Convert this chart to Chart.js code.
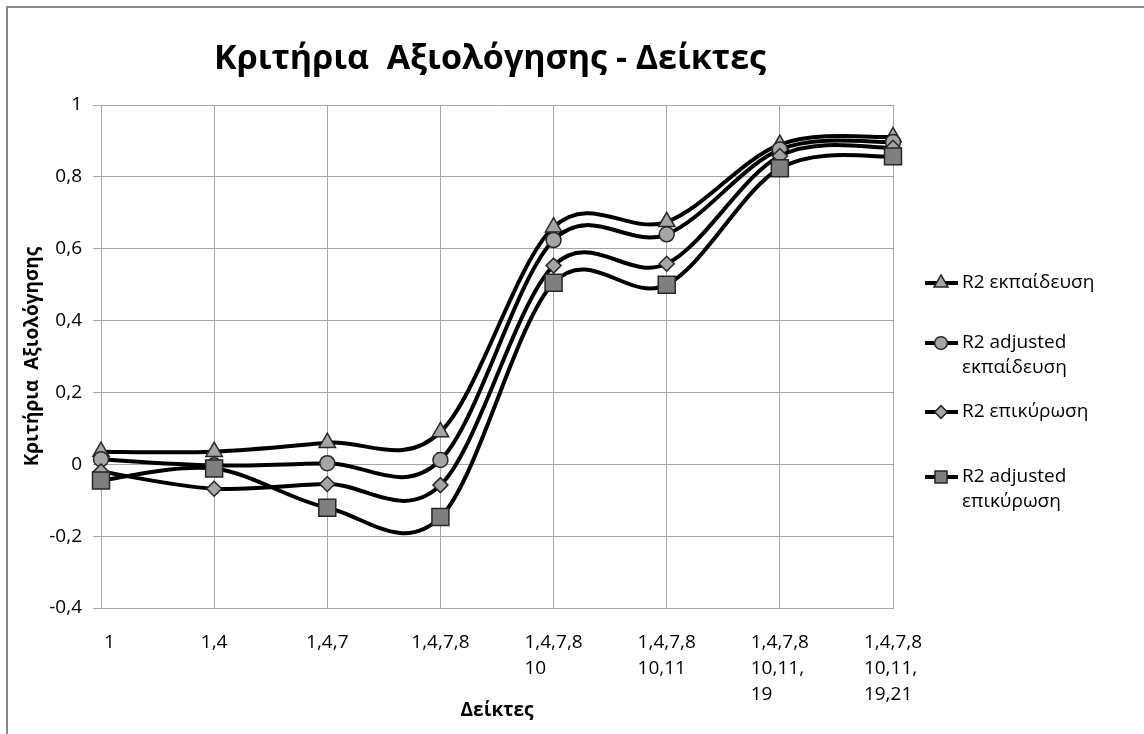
<!DOCTYPE html>
<html>
<head>
<meta charset="utf-8">
<script src="https://cdn.jsdelivr.net/npm/chart.js@4/dist/chart.umd.min.js"></script>
<style>
  html, body { margin: 0; padding: 0; background: #fff; }
  #wrap { width: 1144px; height: 734px; position: relative; }
</style>
</head>
<body>
<div id="wrap"><canvas id="chart" width="1144" height="734"></canvas></div>
<script>
// Index sets on the category axis (each entry is one wrapped label)
const categories = [
  ["1"],
  ["1,4"],
  ["1,4,7"],
  ["1,4,7,8"],
  ["1,4,7,8", "10"],
  ["1,4,7,8", "10,11"],
  ["1,4,7,8", "10,11,", "19"],
  ["1,4,7,8", "10,11,", "19,21"]
];

// Evaluation criteria per index set
const r2Train       = [0.035, 0.035, 0.060, 0.090, 0.660, 0.675, 0.890, 0.911];
const r2AdjTrain    = [0.014, -0.003, 0.003, 0.012, 0.624, 0.640, 0.876, 0.897];
const r2Valid       = [-0.020, -0.068, -0.055, -0.058, 0.553, 0.558, 0.858, 0.881];
const r2AdjValid    = [-0.045, -0.012, -0.121, -0.147, 0.505, 0.500, 0.824, 0.857];

const seriesNames = ["R2 εκπαίδευση", "R2 adjusted εκπαίδευση", "R2 επικύρωση", "R2 adjusted επικύρωση"];
const legendLines = [["R2 εκπαίδευση"], ["R2 adjusted", "εκπαίδευση"], ["R2 επικύρωση"], ["R2 adjusted", "επικύρωση"]];

const yMin = -0.4, yMax = 1, yStep = 0.2;

const chartTitle = "Κριτήρια  Αξιολόγησης - Δείκτες";
const yTitle = "Κριτήρια  Αξιολόγησης";
const xTitle = "Δείκτες";

const FONT = "'Open Sans', 'Noto Sans', sans-serif";
const TICK_SIZE = 19;

const markers = [
  { pointStyle: "triangle", radius: 9.5, fill: "#a5a5a5" },
  { pointStyle: "circle",   radius: 7.5, fill: "#a5a5a5" },
  { pointStyle: "rectRot",  radius: 7.5, fill: "#a5a5a5" },
  { pointStyle: "rect",     radius: 12, fill: "#7f7f7f" }
];
const seriesValues = [r2Train, r2AdjTrain, r2Valid, r2AdjValid];

const datasets = seriesValues.map((vals, i) => ({
  label: seriesNames[i],
  data: vals,
  borderColor: "#000",
  borderWidth: 4,
  tension: 0.5,
  fill: false,
  pointStyle: markers[i].pointStyle,
  pointRadius: markers[i].radius,
  pointBackgroundColor: markers[i].fill,
  pointBorderColor: "#262626",
  pointBorderWidth: 1.5,
  order: seriesValues.length - 1 - i
}));

// Smoothed lines: uniform Catmull-Rom handles (1/6 of the neighbour span)
const smoothCurves = {
  id: "smoothCurves",
  beforeDatasetDraw(chart, args) {
    const meta = args.meta;
    meta.dataset.updateControlPoints(chart.chartArea, meta.iScale.axis);
    const pts = meta.data;
    const n = pts.length;
    for (let i = 0; i < n; i++) {
      const p = pts[i];
      const prev = pts[Math.max(i - 1, 0)];
      const next = pts[Math.min(i + 1, n - 1)];
      const dx = (next.x - prev.x) / 6;
      const dy = (next.y - prev.y) / 6;
      p.cp1x = p.x - dx; p.cp1y = p.y - dy;
      p.cp2x = p.x + dx; p.cp2y = p.y + dy;
    }
  }
};

const frame = {
  id: "frame",
  beforeDraw(chart) {
    const ctx = chart.ctx;
    ctx.save();
    ctx.fillStyle = "#fff";
    ctx.fillRect(0, 0, chart.width, chart.height);
    ctx.strokeStyle = "#868686";
    ctx.lineWidth = 2;
    ctx.strokeRect(7, 7, chart.width + 20, chart.height + 20);
    ctx.restore();
  }
};

const heading = {
  id: "heading",
  afterDraw(chart) {
    const ctx = chart.ctx;
    ctx.save();
    ctx.font = "bold 34px " + FONT;
    ctx.fillStyle = "#000";
    ctx.textAlign = "center";
    ctx.textBaseline = "middle";
    const a = chart.chartArea;
    ctx.fillText(chartTitle, (a.left + a.right) / 2 - 7, 59);
    ctx.restore();
  }
};

const categoryLabels = {
  id: "categoryLabels",
  afterDraw(chart) {
    const ctx = chart.ctx;
    const xs = chart.scales.x;
    const a = chart.chartArea;
    ctx.save();
    ctx.font = TICK_SIZE + "px " + FONT;
    ctx.fillStyle = "#000";
    ctx.textAlign = "left";
    ctx.textBaseline = "middle";
    chart.data.labels.forEach((lines, i) => {
      const x = xs.getPixelForTick(i);
      const w = Math.max(...lines.map(l => ctx.measureText(l).width));
      let left = x - w / 2;
      if (left < a.left + 3) left = a.left + 3;
      lines.forEach((l, j) => ctx.fillText(l, left, a.bottom + 35 + j * 26));
    });
    ctx.restore();
  }
};

const sideLegend = {
  id: "sideLegend",
  afterDraw(chart) {
    const ctx = chart.ctx;
    const rows = [283, 343, 412, 477];
    ctx.save();
    ctx.font = TICK_SIZE + "px " + FONT;
    ctx.textBaseline = "middle";
    ctx.textAlign = "left";
    chart.data.datasets.forEach((ds, i) => {
      const y = rows[i];
      ctx.strokeStyle = "#000";
      ctx.lineWidth = 4;
      ctx.beginPath();
      ctx.moveTo(925, y);
      ctx.lineTo(958, y);
      ctx.stroke();
      ctx.fillStyle = ds.pointBackgroundColor;
      ctx.strokeStyle = ds.pointBorderColor;
      ctx.lineWidth = 1.5;
      Chart.helpers.drawPoint(ctx, {
        pointStyle: ds.pointStyle,
        radius: Math.min(ds.pointRadius, 10) * 0.85,
        rotation: 0,
        borderWidth: 1.5
      }, 941, y);
      ctx.fillStyle = "#000";
      legendLines[i].forEach((t, j) => ctx.fillText(t, 962, y + j * 25));
    });
    ctx.restore();
  }
};

const PAD_LEFT = 10;
const PLOT_LEFT = 101, PLOT_RIGHT = 893, PLOT_TOP = 105, PLOT_BOTTOM = 608;

new Chart(document.getElementById("chart"), {
  type: "line",
  data: { labels: categories, datasets },
  options: {
    responsive: false,
    animation: false,
    events: [],
    layout: {
      padding: { left: PAD_LEFT, right: 1144 - PLOT_RIGHT, top: PLOT_TOP, bottom: 0 }
    },
    plugins: {
      legend: { display: false },
      title: { display: false },
      tooltip: { enabled: false }
    },
    scales: {
      x: {
        type: "category",
        offset: false,
        grid: { color: "#a6a6a6", lineWidth: 1, drawTicks: false },
        border: { color: "#a6a6a6", width: 1 },
        ticks: { display: false },
        title: {
          display: true,
          text: xTitle,
          color: "#000",
          font: { family: FONT, size: 19, weight: "bold" },
          padding: { top: 0, bottom: 12 }
        },
        afterFit(scale) { scale.height = 734 - PLOT_BOTTOM; }
      },
      y: {
        min: yMin,
        max: yMax,
        grid: { color: "#a6a6a6", lineWidth: 1, drawTicks: true, tickLength: 8, tickColor: "#a6a6a6" },
        border: { color: "#a6a6a6", width: 1 },
        ticks: {
          stepSize: yStep,
          color: "#000",
          padding: 11,
          font: { family: FONT, size: TICK_SIZE },
          callback: v => {
            const r = Math.round(v * 10) / 10;
            return r === 0 ? "0" : String(r).replace(".", ",");
          }
        },
        title: {
          display: true,
          text: yTitle,
          color: "#000",
          font: { family: FONT, size: 19, weight: "bold" },
          padding: { top: 11, bottom: 0 }
        },
        afterFit(scale) { scale.width = PLOT_LEFT - PAD_LEFT; }
      }
    }
  },
  plugins: [frame, smoothCurves, heading, categoryLabels, sideLegend]
});
</script>
</body>
</html>
